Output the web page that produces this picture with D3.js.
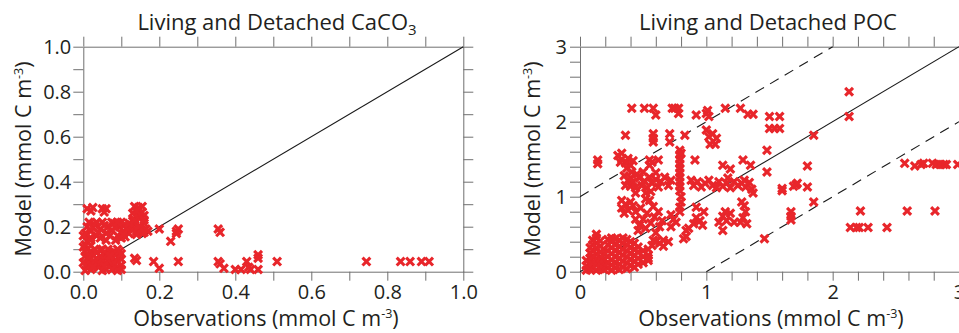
<!DOCTYPE html>
<html><head><meta charset="utf-8">
<script src="https://cdn.jsdelivr.net/npm/d3@7"></script>
<style>body{margin:0;background:#fff} svg{display:block} text{font-family:"Open Sans",sans-serif;fill:#231f20}</style>
</head><body>
<svg id="c" width="959" height="333"></svg>
<script>
// ---------- DATA ----------
const cacoPoints = [
 [0.005,0.005],[0.01,0.02],[0.02,0.01],[0.03,0.03],[0.015,0.05],[0.005,0.07],[0.02,0.09],[0.035,0.06],[0.04,0.02],[0.05,0.045],
 [0.055,0.08],[0.06,0.01],[0.07,0.03],[0.075,0.06],[0.08,0.09],[0.085,0.015],[0.09,0.045],[0.045,0.095],[0.065,0.1],[0.03,0.1],
 [0.01,0.1],[0.095,0.07],[0.1,0.03],[0.1,0.055],[0.025,0.075],[0.06,0.06],[0.04,0.04],[0.08,0.04],[0.012,0.035],[0.07,0.085],
 [0.1,0.01],[0.09,0.005],[0.05,0.005],[0.005,0.12],[0.01,0.135],[0.02,0.115],
 [0.0,0.04],[0.015,0.065],[0.03,0.045],[0.045,0.07],[0.06,0.035],[0.065,0.05],[0.075,0.01],[0.085,0.075],[0.09,0.1],[0.02,0.03],
 [0.05,0.1],[0.035,0.085],[0.07,0.07],[0.095,0.09],[0.1,0.08],[0.005,0.09],[0.025,0.02],[0.055,0.025],[0.0,0.11],[0.015,0.145],
 [0.005,0.17],[0.01,0.2],[0.02,0.18],[0.03,0.21],[0.035,0.16],[0.045,0.19],[0.05,0.22],[0.06,0.17],[0.065,0.2],[0.075,0.185],
 [0.08,0.215],[0.09,0.16],[0.095,0.2],[0.105,0.18],[0.11,0.21],[0.12,0.17],[0.125,0.195],[0.135,0.21],[0.14,0.18],[0.15,0.2],
 [0.155,0.17],[0.165,0.19],[0.17,0.18],[0.1,0.15],[0.085,0.14],[0.06,0.14],[0.11,0.155],[0.045,0.15],[0.02,0.15],[0.015,0.22],
 [0.075,0.22],[0.13,0.225],[0.16,0.215],
 [0.0,0.16],[0.025,0.195],[0.04,0.175],[0.055,0.205],[0.07,0.16],[0.085,0.195],[0.1,0.22],[0.115,0.19],[0.13,0.185],[0.145,0.2],
 [0.16,0.175],[0.105,0.165],[0.14,0.165],[0.09,0.22],[0.035,0.22],[0.12,0.215],
 [0.01,0.28],[0.02,0.27],[0.025,0.285],[0.05,0.28],[0.055,0.265],[0.06,0.28],[0.135,0.29],[0.145,0.285],[0.155,0.29],
 [0.14,0.25],[0.15,0.24],[0.135,0.23],[0.16,0.25],[0.13,0.26],[0.145,0.26],[0.155,0.265],[0.14,0.27],[0.16,0.23],
 [0.2,0.19],[0.245,0.18],[0.25,0.19],[0.245,0.17],[0.23,0.135],[0.355,0.19],[0.36,0.175],
 [0.14,0.05],[0.135,0.06],[0.185,0.045],[0.2,0.015],[0.25,0.045],[0.355,0.045],[0.36,0.035],[0.37,0.015],
 [0.4,0.01],[0.415,0.01],[0.43,0.045],[0.435,0.02],[0.44,0.01],[0.46,0.075],[0.46,0.06],[0.46,0.01],[0.51,0.045],
 [0.745,0.045],[0.835,0.045],[0.86,0.045],[0.89,0.045],[0.91,0.045]
];
const pocPoints = [
 [0.05,0.02],[0.05,0.08],[0.05,0.15],
 [0.08,0.03],[0.08,0.1],[0.08,0.18],[0.08,0.25],[0.08,0.32],
 [0.1,0.05],[0.1,0.12],[0.1,0.2],[0.1,0.28],[0.1,0.36],[0.1,0.42],
 [0.13,0.02],[0.13,0.1],[0.13,0.17],[0.13,0.24],[0.13,0.31],[0.13,0.38],[0.13,0.45],[0.13,0.5],
 [0.16,0.04],[0.16,0.11],[0.16,0.18],[0.16,0.26],[0.16,0.34],[0.16,0.41],
 [0.19,0.03],[0.19,0.1],[0.19,0.17],[0.19,0.24],[0.19,0.3],
 [0.22,0.05],[0.22,0.12],[0.22,0.2],[0.22,0.28],[0.22,0.36],[0.22,0.43],
 [0.25,0.02],[0.25,0.09],[0.25,0.16],[0.25,0.24],[0.25,0.32],[0.25,0.4],[0.25,0.45],
 [0.28,0.05],[0.28,0.12],[0.28,0.2],[0.28,0.28],[0.28,0.36],[0.28,0.44],
 [0.31,0.03],[0.31,0.1],[0.31,0.18],[0.31,0.26],[0.31,0.34],[0.31,0.42],
 [0.34,0.06],[0.34,0.14],[0.34,0.22],[0.34,0.3],[0.34,0.38],[0.34,0.45],
 [0.37,0.04],[0.37,0.12],[0.37,0.2],[0.37,0.28],[0.37,0.36],[0.37,0.43],
 [0.4,0.08],[0.4,0.16],[0.4,0.24],[0.4,0.32],[0.4,0.4],
 [0.43,0.06],[0.43,0.14],[0.43,0.22],[0.43,0.3],[0.43,0.38],
 [0.46,0.1],[0.46,0.18],[0.46,0.26],[0.46,0.33],
 [0.5,0.12],[0.5,0.2],[0.5,0.28],[0.54,0.15],[0.54,0.22],[0.54,0.18],
 [0.41,2.18],[0.51,2.18],[0.58,2.18],[0.6,2.09],[0.73,2.18],[0.75,2.18],[0.78,2.18],[0.78,2.11],[0.92,2.09],[1.0,2.11],
 [1.01,2.15],[1.02,2.07],[1.15,2.18],[1.27,2.18],[1.33,2.1],[1.37,2.1],[1.5,2.07],[1.58,2.07],[1.5,1.91],[1.54,1.91],
 [1.58,1.91],[2.13,2.4],[2.13,2.07],
 [0.36,1.82],[0.58,1.84],[0.58,1.78],[0.58,1.73],[0.71,1.84],[0.71,1.73],[0.83,1.82],[1.0,1.89],[1.02,1.8],[1.05,1.84],
 [1.08,1.78],[1.03,1.7],[1.07,1.7],[1.85,1.82],
 [0.14,1.49],[0.14,1.44],[0.33,1.58],[0.33,1.5],[0.36,1.45],[0.38,1.51],[0.4,1.42],[0.42,1.48],[0.55,1.49],[0.55,1.42],
 [0.57,1.46],[0.62,1.49],[0.91,1.49],[1.13,1.42],[1.19,1.37],[1.29,1.49],[1.35,1.42],[1.48,1.62],[1.48,1.33],[1.8,1.41],
 [0.3,1.55],[0.32,1.46],[0.37,1.38],[0.41,1.33],[0.35,1.28],[0.4,1.25],[0.36,1.15],[0.44,1.05],
 [0.79,1.62],[0.79,1.56],[0.79,1.5],[0.79,1.44],[0.79,1.38],[0.79,1.32],[0.79,1.26],[0.79,1.2],[0.79,1.14],[0.79,1.08],
 [0.8,1.0],[0.8,0.93],[0.79,0.86],[0.79,0.8],[0.8,1.58],
 [0.38,1.22],[0.4,1.14],[0.42,1.2],[0.44,1.12],[0.47,1.25],[0.49,1.15],[0.51,1.21],[0.53,1.12],[0.55,1.26],[0.57,1.18],
 [0.6,1.23],[0.62,1.13],[0.64,1.2],[0.67,1.26],[0.7,1.15],[0.72,1.22],[0.45,1.3],[0.5,1.33],[0.52,1.05],[0.56,1.07],[0.6,1.32],
 [0.9,1.15],[0.93,1.2],[0.96,1.13],[0.99,1.18],[1.02,1.22],[1.05,1.15],[1.08,1.12],[1.1,1.2],[1.13,1.14],[1.16,1.18],
 [1.19,1.12],[1.22,1.2],[1.25,1.15],[1.28,1.18],[1.31,1.13],[1.34,1.19],[1.36,1.1],[1.37,1.05],[1.3,1.22],[1.17,1.25],[0.88,1.22],
 [1.6,1.11],[1.6,1.08],[1.71,1.16],[1.72,1.18],[1.69,1.14],[1.8,1.13],[1.85,0.93],[1.67,0.8],[1.67,0.69],[1.67,0.74],
 [0.33,0.95],[0.36,0.9],[0.4,0.93],[0.33,0.85],[0.38,0.82],[0.42,0.88],[0.44,0.8],[0.35,0.78],[0.55,0.95],[0.52,0.97],
 [0.47,0.62],[0.5,0.7],[0.53,0.78],[0.56,0.65],[0.59,0.73],[0.62,0.8],[0.65,0.68],[0.48,0.85],[0.58,0.87],[0.63,0.6],
 [0.44,0.7],[0.46,0.55],[0.52,0.58],[0.6,0.52],
 [0.72,0.6],[0.74,0.7],[0.76,0.66],[0.72,0.76],
 [0.84,0.47],[0.84,0.55],[0.82,0.44],[0.86,0.58],
 [0.9,0.64],[0.92,0.72],[0.95,0.68],[0.98,0.8],[0.97,0.62],[0.92,0.86],
 [1.1,0.66],[1.13,0.74],[1.16,0.68],[1.19,0.78],[1.22,0.66],[1.15,0.8],[1.13,0.55],
 [1.27,0.66],[1.29,0.72],[1.31,0.8],[1.3,0.88],[1.28,0.93],[1.32,0.64],
 [0.57,0.35],[0.6,0.4],[0.63,0.38],[0.66,0.42],[0.7,0.4],[0.58,0.42],[0.66,0.34],[0.54,0.3],
 [1.46,0.44],
 [2.57,1.445],[2.65,1.41],[2.7,1.43],[2.72,1.445],[2.79,1.445],[2.82,1.43],[2.85,1.43],[2.88,1.43],[2.9,1.43],[2.99,1.43],
 [2.22,0.81],[2.59,0.81],[2.81,0.81],
 [2.14,0.59],[2.19,0.59],[2.21,0.59],[2.28,0.59],[2.43,0.59]
];
const cacoMajorTicks = [0,0.2,0.4,0.6,0.8,1.0];
const cacoTickLabels = ["0.0","0.2","0.4","0.6","0.8","1.0"];
const cacoMinorTicks = [0,0.1,0.2,0.3,0.4,0.5,0.6,0.7,0.8,0.9,1.0];
const pocMajorTicks = [0,1,2,3];
const pocTickLabels = ["0","1","2","3"];
const pocMinorTicks = [0,0.2,0.4,0.6,0.8,1,1.2,1.4,1.6,1.8,2,2.2,2.4,2.6,2.8,3];
const cacoLines = [{from:[0,0], to:[1,1], dash:false}];
const pocLines = [{from:[0,0], to:[3,3], dash:false},{from:[0,1], to:[2,3], dash:true},{from:[1,0], to:[3,2], dash:true}];

// ---------- DRAW ----------
const svg = d3.select("#c");
const RED = "#e8262b", AX = "#707070";
const marker = "M-3.9,-3.9L3.9,3.9M-3.9,3.9L3.9,-3.9";

function labelFor(majors, labels){
  return d => { const i = majors.findIndex(m => Math.abs(m-d) < 1e-9); return i >= 0 ? labels[i] : ""; };
}

function panel(o){
  const x = d3.scaleLinear().domain(o.domain).range(o.xr);
  const y = d3.scaleLinear().domain(o.domain).range([271.7, 46.7]);
  const g = svg.append("g");
  const fmt = labelFor(o.majors, o.labels);

  const styleAxis = s => {
    s.select(".domain").attr("stroke", AX);
    s.selectAll(".tick line").attr("stroke", AX);
    s.selectAll(".tick text").style("font-size","20px").style("font-family","'Open Sans',sans-serif").attr("fill","#231f20");
  };
  g.append("g").attr("transform",`translate(0,${y(o.domain[0])})`)
    .call(d3.axisBottom(x).tickValues(o.minors).tickSize(9).tickSizeOuter(0).tickPadding(4).tickFormat(fmt)).call(styleAxis);
  g.append("g").attr("transform",`translate(0,${y(o.domain[1])})`)
    .call(d3.axisTop(x).tickValues(o.minors).tickSize(10).tickSizeOuter(0).tickFormat("")).call(styleAxis);
  g.append("g").attr("transform",`translate(${x(o.domain[0])},0)`)
    .call(d3.axisLeft(y).tickValues(o.minors).tickSize(10).tickSizeOuter(0).tickPadding(o.ypad).tickFormat(fmt)).call(styleAxis);
  if (o.right) g.append("g").attr("transform",`translate(${x(o.domain[1])},0)`)
    .call(d3.axisRight(y).tickValues(o.minors).tickSize(10).tickSizeOuter(0).tickFormat("")).call(styleAxis);

  g.selectAll("line.ref").data(o.lines).enter().append("line").attr("class","ref")
    .attr("x1", d=>x(d.from[0])).attr("y1", d=>y(d.from[1]))
    .attr("x2", d=>x(d.to[0])).attr("y2", d=>y(d.to[1]))
    .attr("stroke","#1a1a1a").attr("stroke-width",1.1)
    .attr("stroke-dasharray", d=> d.dash ? "10,7" : null);

  g.selectAll("path.pt").data(o.points).enter().append("path")
    .attr("class","pt").attr("d", marker)
    .attr("transform", d=>`translate(${x(d[0])},${y(d[1])})`)
    .attr("stroke", RED).attr("stroke-width", 3.1).attr("fill","none");

  // title
  const t = g.append("text").attr("x", o.titleX).attr("y", 30).attr("text-anchor","middle")
    .style("font-size","22px").text(o.title);
  if (o.titleSub) t.append("tspan").attr("dy", 5).style("font-size","15px").text(o.titleSub);

  // x title
  const xt = g.append("text").attr("x", o.xTitleX).attr("y", 326).attr("text-anchor","middle").style("font-size","21.5px");
  xt.append("tspan").text("Observations (mmol C m");
  xt.append("tspan").attr("dy",-8).style("font-size","12.5px").text("-3");
  xt.append("tspan").attr("dy",8).text(")");
  // y title
  const yt = g.append("text").attr("transform",`translate(${o.yTitleX},159) rotate(-90)`).attr("text-anchor","middle").style("font-size","21.5px");
  yt.append("tspan").text("Model (mmol C m");
  yt.append("tspan").attr("dy",-8).style("font-size","12.5px").text("-3");
  yt.append("tspan").attr("dy",8).text(")");
}

panel({domain:[0,1], xr:[83.3,463.3], majors:cacoMajorTicks, labels:cacoTickLabels, minors:cacoMinorTicks,
  points:cacoPoints, lines:cacoLines, right:true, ypad:2, title:"Living and Detached CaCO", titleSub:"3",
  titleX:277, xTitleX:266, yTitleX:31});
panel({domain:[0,3], xr:[580,959], majors:pocMajorTicks, labels:pocTickLabels, minors:pocMinorTicks,
  points:pocPoints, lines:pocLines, right:false, ypad:3, title:"Living and Detached POC", titleSub:null,
  titleX:768, xTitleX:771, yTitleX:540});
</script>
</body></html>
